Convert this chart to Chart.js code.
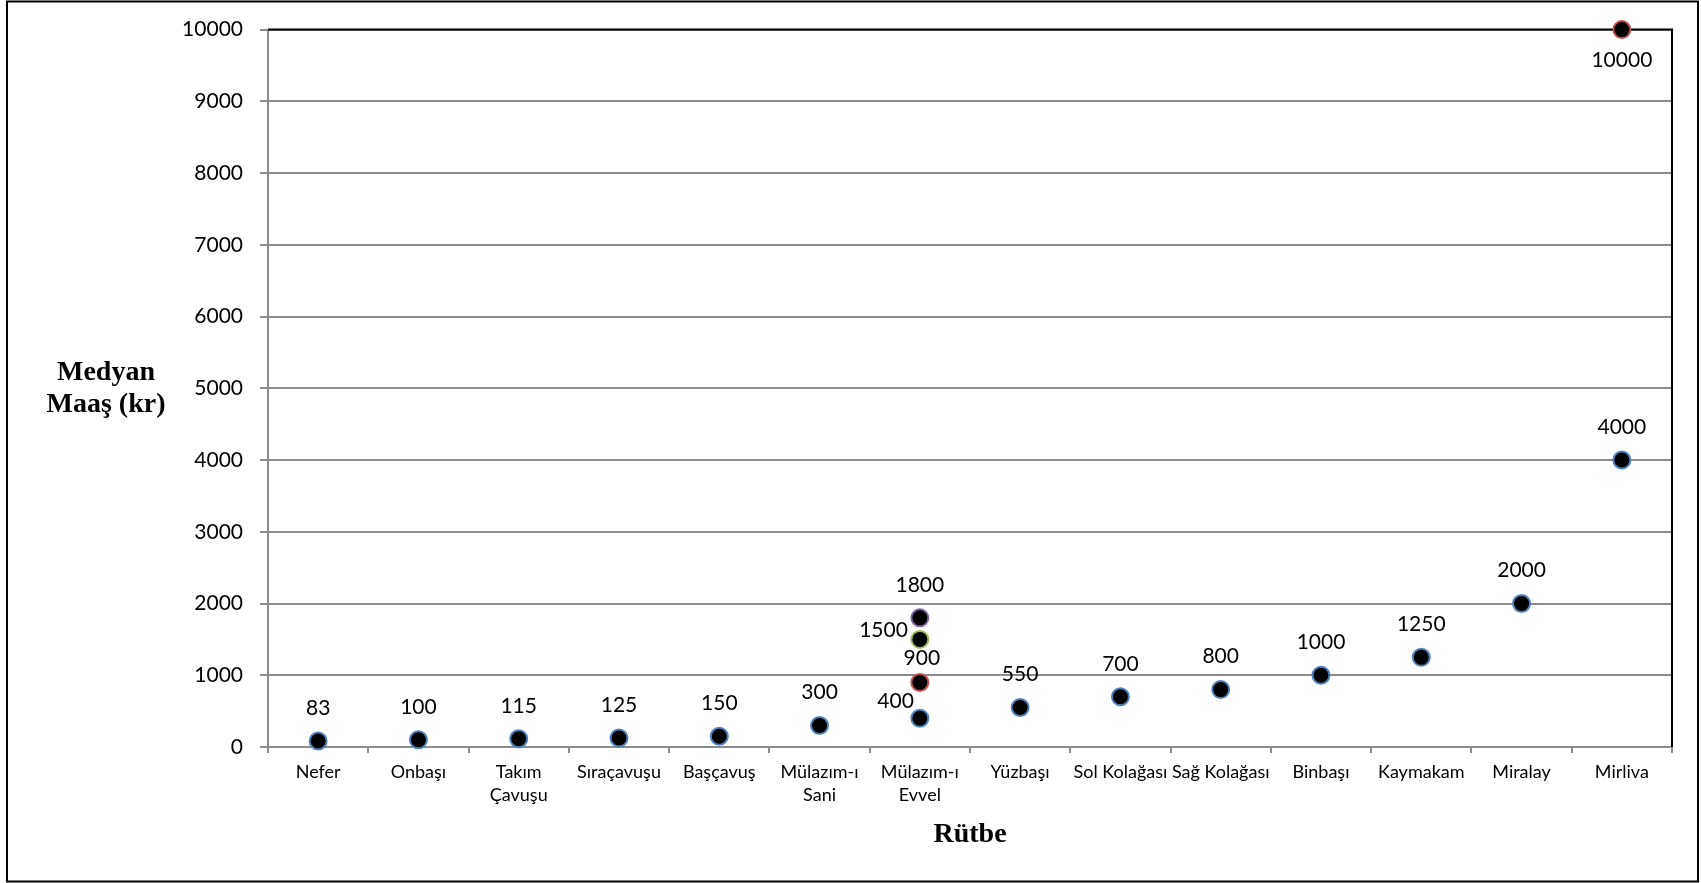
<!DOCTYPE html>
<html>
<head>
<meta charset="utf-8">
<script src="https://cdn.jsdelivr.net/npm/chart.js@4.4.1/dist/chart.umd.min.js"></script>
<style>
  html, body { margin: 0; padding: 0; background: #fff; }
  #wrap { width: 1701px; height: 883px; position: relative; }
</style>
</head>
<body>
<div id="wrap"><canvas id="chart"></canvas></div>
<script>
// categories (ranks) and median salaries in kuruş
const ranks = ['Nefer', 'Onbaşı', ['Takım', 'Çavuşu'], 'Sıraçavuşu', 'Başçavuş',
    ['Mülazım-ı', 'Sani'], ['Mülazım-ı', 'Evvel'], 'Yüzbaşı', 'Sol Kolağası',
    'Sağ Kolağası', 'Binbaşı', 'Kaymakam', 'Miralay', 'Mirliva'];
const salaryMain = [83, 100, 115, 125, 150, 300, 400, 550, 700, 800, 1000, 1250, 2000, 4000];
const salaryRed = [null, null, null, null, null, null, 900, null, null, null, null, null, null, 10000];
const salaryGreen = [null, null, null, null, null, null, 1500, null, null, null, null, null, null, null];
const salaryPurple = [null, null, null, null, null, null, 1800, null, null, null, null, null, null, null];
const yTicks = [0, 1000, 2000, 3000, 4000, 5000, 6000, 7000, 8000, 9000, 10000];

// where a data label sits relative to its point (default: centred above)
const labelPlacement = {
    '0:6': { dx: -6, dy: -17, align: 'right' },
    '1:6': { dx: 2, dy: -24 },
    '1:13': { dx: 0, dy: 31 },
    '2:6': { dx: -12, dy: -9, align: 'right' }
};

const tickFont = { family: 'Lato, "Noto Sans", sans-serif', size: 21 };
const catFont = { family: 'Lato, "Noto Sans", sans-serif', size: 18, lineHeight: 1.3 };

function series(data, border) {
    return {
        data: data,
        showLine: false,
        clip: false,
        pointRadius: 8.5,
        pointHoverRadius: 8.5,
        pointBackgroundColor: '#000',
        pointBorderColor: border,
        pointBorderWidth: 2
    };
}

const decorations = {
    id: 'decorations',
    afterDatasetsDraw(chart) {
        const ctx = chart.ctx;
        const a = chart.chartArea;
        ctx.save();
        // data labels
        ctx.font = `${tickFont.size}px ${tickFont.family}`;
        ctx.fillStyle = '#000';
        ctx.textBaseline = 'middle';
        chart.data.datasets.forEach((ds, di) => {
            const meta = chart.getDatasetMeta(di);
            meta.data.forEach((pt, i) => {
                if (ds.data[i] == null) return;
                const p = labelPlacement[di + ':' + i] || { dx: 0, dy: -33 };
                ctx.textAlign = p.align || 'center';
                ctx.fillText(String(ds.data[i]), pt.x + p.dx, pt.y + p.dy);
            });
        });
        // axis titles
        ctx.font = 'bold 28px "Liberation Serif", "DejaVu Serif", serif';
        ctx.textAlign = 'center';
        ctx.fillText('Medyan', 106, 373);
        ctx.fillText('Maaş (kr)', 106, 405);
        ctx.fillText('Rütbe', (a.left + a.right) / 2, 835);
        // outer frame
        ctx.strokeStyle = '#000';
        ctx.lineWidth = 2;
        ctx.strokeRect(7, 1.5, 1691, 880);
        ctx.restore();
    },
    beforeDatasetsDraw(chart) {
        // top and right edges of the plot, under the markers
        const ctx = chart.ctx;
        const a = chart.chartArea;
        ctx.save();
        ctx.strokeStyle = '#000';
        ctx.lineWidth = 2;
        ctx.beginPath();
        ctx.moveTo(a.left, a.top);
        ctx.lineTo(a.right, a.top);
        ctx.lineTo(a.right, a.bottom);
        ctx.stroke();
        ctx.restore();
    }
};

new Chart(document.getElementById('chart'), {
    type: 'line',
    data: {
        labels: ranks,
        datasets: [
            series(salaryMain, '#4f81bd'),
            series(salaryRed, '#c0504d'),
            series(salaryGreen, '#9bbb59'),
            series(salaryPurple, '#8064a2')
        ]
    },
    options: {
        responsive: true,
        maintainAspectRatio: false,
        animation: false,
        layout: { padding: { top: 28, right: 29, bottom: 0, left: 0 } },
        plugins: {
            legend: { display: false },
            tooltip: { enabled: false }
        },
        scales: {
            x: {
                type: 'category',
                offset: true,
                grid: {
                    offset: true,
                    drawOnChartArea: false,
                    drawTicks: true,
                    tickLength: 6,
                    color: '#8c8c8c',
                    lineWidth: 2
                },
                border: { color: '#8c8c8c', width: 2 },
                ticks: {
                    color: '#000',
                    font: catFont,
                    padding: 7,
                    autoSkip: false,
                    maxRotation: 0,
                    minRotation: 0
                },
                afterFit(scale) { scale.height = 136; }
            },
            y: {
                min: 0,
                max: 10000,
                afterBuildTicks(scale) { scale.ticks = yTicks.map(v => ({ value: v })); },
                grid: {
                    color: '#8c8c8c',
                    lineWidth: 2,
                    tickLength: 8
                },
                border: { color: '#8c8c8c', width: 2 },
                ticks: {
                    color: '#000',
                    font: tickFont,
                    padding: 17,
                    callback: v => String(v)
                },
                afterFit(scale) { scale.width = 268; }
            }
        }
    },
    plugins: [decorations]
});
</script>
</body>
</html>
